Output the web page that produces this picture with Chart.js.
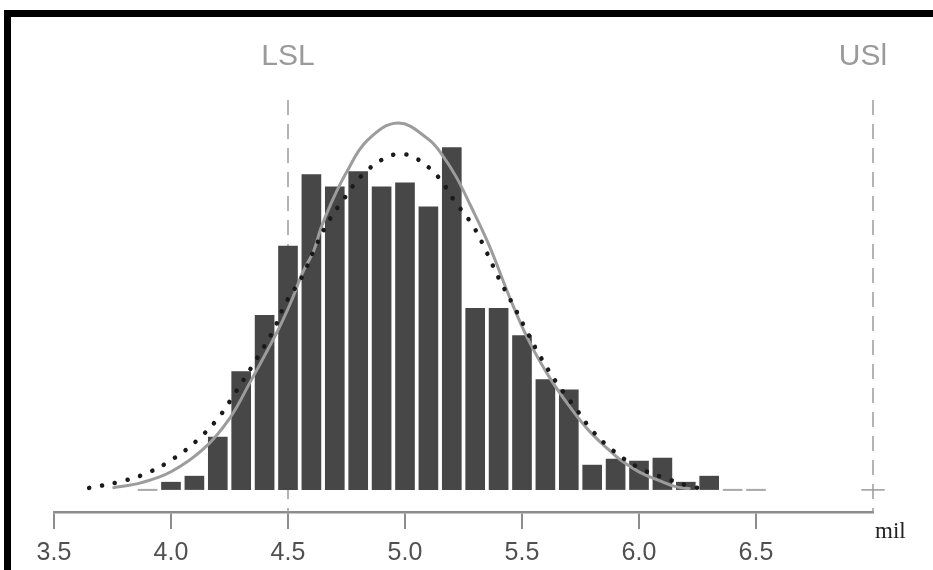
<!DOCTYPE html>
<html>
<head>
<meta charset="utf-8">
<script src="https://cdn.jsdelivr.net/npm/chart.js@4/dist/chart.umd.min.js"></script>
<style>
  html, body { margin: 0; padding: 0; background: #fff; overflow: hidden; }
  #wrap { position: relative; width: 933px; height: 570px; }
  #frame { position: absolute; left: 4px; top: 10px; right: 0; bottom: 0;
           border-top: 7px solid #000; border-left: 7px solid #000; }
  canvas { position: absolute; left: 0; top: 0; }
</style>
</head>
<body>
<div id="wrap">
  <div id="frame"></div>
  <canvas id="myChart" width="933" height="570"></canvas>
</div>
<script>
// histogram bins (bin centre, mil) and bar heights
var binCenters = [3.9, 4.0, 4.1, 4.2, 4.3, 4.4, 4.5, 4.6, 4.7, 4.8, 4.9, 5.0, 5.1, 5.2,
                  5.3, 5.4, 5.5, 5.6, 5.7, 5.8, 5.9, 6.0, 6.1, 6.2, 6.3, 6.4, 6.5];
var binCounts = [0, 8, 14, 53, 118, 174, 243, 314, 302, 317, 302, 306, 282, 341,
                 181, 181, 154, 110, 100, 25, 31, 29, 32, 8, 14, 0, 0];

// grey solid fitted curve
var fitX = [3.75, 3.87, 4.00, 4.14, 4.25, 4.34, 4.41, 4.47, 4.52, 4.56, 4.61, 4.64, 4.68, 4.75,
            4.84, 4.97, 5.10, 5.16, 5.22, 5.28, 5.36, 5.45, 5.53, 5.62, 5.71, 5.79,
            5.88, 5.92, 6.00, 6.09, 6.16, 6.22];
var fitY = [2, 7, 18, 41, 71, 108, 138, 165, 191, 215, 238, 260, 283, 316,
            348, 365, 349, 333, 311, 283, 243, 190, 148, 111, 81, 58,
            38, 30, 18, 9, 3, 1];

// black dotted curve
var dotX = [3.65, 3.78, 3.90, 4.01, 4.11, 4.20, 4.27, 4.37, 4.44, 4.49, 4.56, 4.61, 4.67, 4.74,
            4.82, 4.92, 4.98, 5.04, 5.14, 5.21, 5.29, 5.35, 5.40, 5.46, 5.52, 5.58, 5.65, 5.73,
            5.80, 5.89, 6.00, 6.12, 6.23, 6.30];
var dotY = [2, 8, 17, 31, 49, 71, 95, 132, 160, 186, 212, 238, 266, 290,
            314, 331, 334, 331, 312, 288, 263, 236, 211, 185, 158, 132, 106, 81,
            59, 39, 22, 11, 3, 1];

// axis ticks and spec limits
var tickValues = [3.5, 4.0, 4.5, 5.0, 5.5, 6.0, 6.5];
var specLimits = [4.5, 7.0];
var specLabels = ['LSL', 'USl'];
var unitLabel = 'mil';

var yMin = -22, yMax = 388;

function pts(xs, ys) {
  return xs.map(function(x, i) { return {x: x, y: ys[i]}; });
}

var barData = pts(binCenters, binCounts);
var barColors = binCounts.map(function(c) { return c > 0 ? '#474747' : '#a8a8a8'; });

// spec limit lines as simple datasets
function limitLine(x) {
  return {
    type: 'line',
    data: [{x: x, y: yMax}, {x: x, y: yMin}],
    borderColor: '#9a9a9a',
    borderWidth: 1.5,
    borderDash: [15, 9],
    pointRadius: 0,
    clip: false,
    order: 9
  };
}

var labelsPlugin = {
  id: 'specText',
  afterDraw: function(chart) {
    var ctx = chart.ctx;
    var xs = chart.scales.x;
    ctx.save();
    ctx.fillStyle = '#9a9a9a';
    ctx.font = '30px "Liberation Sans", sans-serif';
    ctx.textAlign = 'center';
    ctx.textBaseline = 'middle';
    ctx.fillText(specLabels[0], xs.getPixelForValue(specLimits[0]), 57);
    ctx.fillText(specLabels[1], xs.getPixelForValue(specLimits[1]) - 10, 57);
    ctx.fillStyle = '#222';
    ctx.font = '23px "Liberation Serif", serif';
    ctx.textAlign = 'left';
    ctx.textBaseline = 'alphabetic';
    ctx.fillText(unitLabel, xs.getPixelForValue(specLimits[1]) + 2, 538);
    ctx.restore();
  }
};

var ctx = document.getElementById('myChart').getContext('2d');
var chart = new Chart(ctx, {
  type: 'bar',
  data: {
    datasets: [
      {
        type: 'line',
        data: pts(dotX, dotY),
        borderColor: '#1a1a1a',
        borderWidth: 4.5,
        borderDash: [0.1, 13],
        borderCapStyle: 'round',
        tension: 0.4,
        pointRadius: 0,
        clip: false,
        order: 1
      },
      {
        type: 'line',
        data: pts(fitX, fitY),
        borderColor: '#9c9c9c',
        borderWidth: 3,
        tension: 0.4,
        pointRadius: 0,
        clip: false,
        order: 2
      },
      {
        type: 'bar',
        data: barData,
        backgroundColor: barColors,
        borderWidth: 0,
        barPercentage: 0.84,
        categoryPercentage: 1.0,
        minBarLength: 2,
        order: 5
      },
      limitLine(specLimits[0]),
      limitLine(specLimits[1]),
      {
        type: 'line',
        data: [{x: specLimits[1] - 0.05, y: 0}, {x: specLimits[1] + 0.05, y: 0}],
        borderColor: '#9a9a9a',
        borderWidth: 1.5,
        pointRadius: 0,
        clip: false,
        order: 9
      }
    ]
  },
  options: {
    responsive: false,
    animation: false,
    layout: { padding: { left: 54, right: 60, top: 100, bottom: -7 } },
    plugins: {
      legend: { display: false },
      tooltip: { enabled: false },
      title: { display: false }
    },
    scales: {
      x: {
        type: 'linear',
        min: 3.5,
        max: 7.0,
        offset: false,
        afterBuildTicks: function(scale) {
          scale.ticks = tickValues.map(function(v) { return {value: v}; });
        },
        grid: {
          offset: false,
          drawOnChartArea: false,
          drawTicks: true,
          tickLength: 17,
          color: '#8c8c8c',
          lineWidth: 2
        },
        border: { display: true, color: '#8c8c8c', width: 2.5 },
        ticks: {
          padding: 9,
          color: '#505050',
          font: { family: '"Liberation Sans", sans-serif', size: 25 },
          callback: function(v) { return Number(v).toFixed(1); }
        }
      },
      y: {
        display: false,
        min: yMin,
        max: yMax
      }
    }
  },
  plugins: [labelsPlugin]
});
</script>
</body>
</html>
